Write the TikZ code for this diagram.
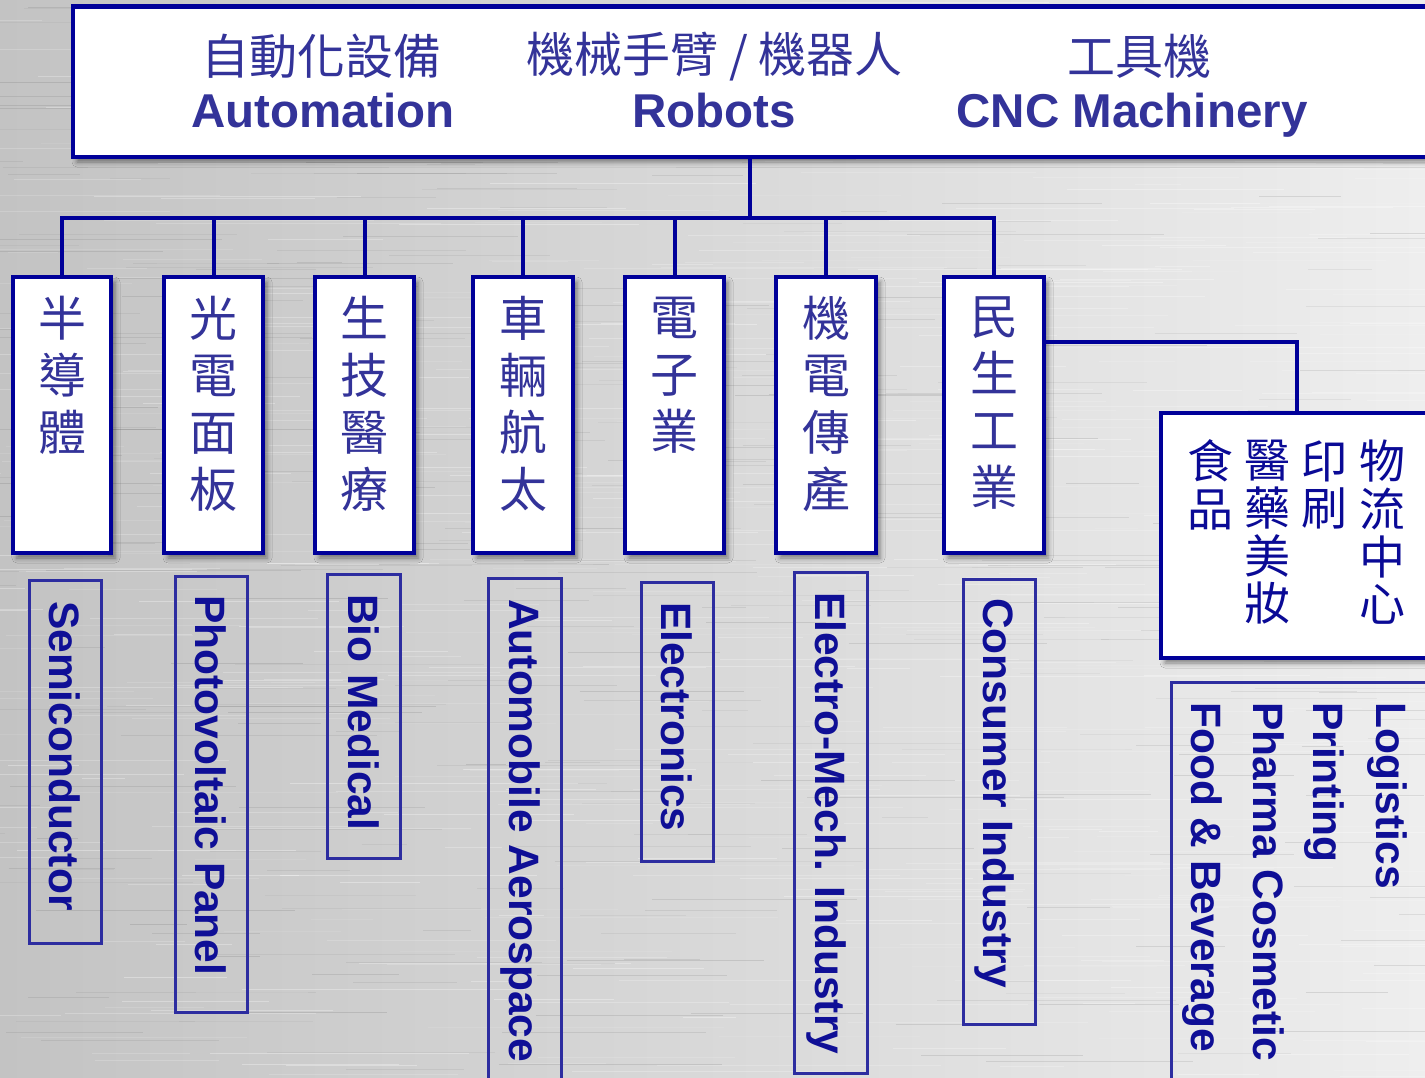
\documentclass[tikz,border=0pt]{standalone}
\usepackage{fontspec}
\setmainfont{Liberation Sans}
\newfontfamily\cjk{Noto Sans CJK TC}
\usetikzlibrary{shadows.blur}
\definecolor{navy}{RGB}{0,0,153}
\definecolor{txtblue}{RGB}{51,51,153}
\definecolor{rtblue}{RGB}{10,10,150}
\definecolor{lblblue}{RGB}{15,15,150}
\definecolor{thinblue}{RGB}{45,45,160}
\definecolor{bgL}{RGB}{195,195,195}
\definecolor{bgR}{RGB}{238,238,238}
\begin{document}
\begin{tikzpicture}[x=1pt,y=-1pt,
  mainbox/.style={draw=navy, line width=4.5pt, fill=white, inner sep=0pt,
    blur shadow={shadow xshift=4pt, shadow yshift=-5pt, shadow blur radius=5pt, shadow opacity=45}},
  colbox/.style={mainbox, minimum width=#1, minimum height=276pt},
  thinbox/.style={draw=thinblue, line width=3pt, inner sep=0pt, minimum width=72pt},
  link/.style={draw=navy, line width=4pt},
  toptextcjk/.style={text=txtblue, font=\cjk\fontsize{48}{56}\selectfont, inner sep=0pt},
  toptexten/.style={text=txtblue, font=\fontsize{47.5}{56}\selectfont\bfseries, inner sep=0pt, anchor=base},
  ctext/.style={text=txtblue, font=\cjk\fontsize{48}{57}\selectfont, align=center, inner sep=0pt},
  rtext/.style={text=rtblue, font=\cjk\fontsize{46}{47.7}\selectfont, align=center, inner sep=0pt},
  btext/.style={text=lblblue, font=\fontsize{42.5}{50}\selectfont\bfseries, rotate=-90, anchor=base west, inner sep=0pt}
]
\useasboundingbox (0,0) rectangle (1425,1078);
% background
\fill[left color=bgL, right color=bgR] (0,0) rectangle (1425,1078);
\pgfmathsetseed{7}
\foreach \k in {1,...,600}{
  \pgfmathsetmacro\yy{rnd*1078}
  \pgfmathsetmacro\xa{rnd*1500-100}
  \pgfmathsetmacro\ll{40+rnd*260}
  \pgfmathsetmacro\op{0.08+0.25*rnd}
  \draw[white, opacity=\op, line width=0.6pt] (\xa,\yy) -- ++(\ll,0);
}
\foreach \k in {1,...,350}{
  \pgfmathsetmacro\yy{rnd*1078}
  \pgfmathsetmacro\xa{rnd*1500-100}
  \pgfmathsetmacro\ll{40+rnd*220}
  \pgfmathsetmacro\op{0.03+0.07*rnd}
  \draw[black, opacity=\op, line width=0.6pt] (\xa,\yy) -- ++(\ll,0);
}

% top box
\node[mainbox, minimum width=1367pt, minimum height=150.5pt] (top) at (756.5,81.75) {};
\node[toptextcjk] (t1c) at (321,56.5) {自動化設備};
\node[toptexten] (t1e) at (323,128) {Automation};
\node[toptextcjk] (t2c) at (714.5,56.5) {機械手臂 / 機器人};
\node[toptexten] (t2e) at (714,128) {Robots};
\node[toptextcjk] (t3c) at (1139,56.5) {工具機};
\node[toptexten] (t3e) at (1132,128) {CNC Machinery};

% column boxes
\node[colbox=98pt]  (b1) at (62,415) {};
\node[colbox=99pt]  (b2) at (213.5,415) {};
\node[colbox=99pt]  (b3) at (364.5,415) {};
\node[colbox=100pt] (b4) at (523,415) {};
\node[colbox=99pt]  (b5) at (674.5,415) {};
\node[colbox=100pt] (b6) at (826,415) {};
\node[colbox=100pt] (b7) at (994,415) {};

\node[ctext] (c1) at (62,375)    {半\\導\\體};
\node[ctext] (c2) at (213.5,403.5) {光\\電\\面\\板};
\node[ctext] (c3) at (364.5,403.5) {生\\技\\醫\\療};
\node[ctext] (c4) at (523,403.5)   {車\\輛\\航\\太};
\node[ctext] (c5) at (674.5,375) {電\\子\\業};
\node[ctext] (c6) at (826,403.5)   {機\\電\\傳\\產};
\node[ctext] (c7) at (994,403.5)   {民\\生\\工\\業};

% right box
\node[mainbox, minimum width=289pt, minimum height=245pt] (rb) at (1305.5,535.5) {};
\node[rtext] (r1) at (1382,532.5) {物\\流\\中\\心};
\node[rtext] (r2) at (1324,485)   {印\\刷};
\node[rtext] (r3) at (1267,532.5) {醫\\藥\\美\\妝};
\node[rtext] (r4) at (1210,485)   {食\\品};

% connectors
\coordinate (hub) at (750,218);
\coordinate (rc) at (1297,342);
\draw[link] (top.south -| hub) -- (hub);
\draw[link, line cap=rect] (b1.north |- hub) -- (b7.north |- hub);
\foreach \b in {b1,b2,b3,b4,b5,b6,b7}
  \draw[link] (\b.north |- hub) -- (\b.north);
\draw[link] (b7.east |- rc) -- (rc) -- (rc |- rb.north);

% bottom english boxes
\node[thinbox, minimum height=363pt] (e1) at (65,761.5) {};
\node[thinbox, minimum height=436pt] (e2) at (211,794) {};
\node[thinbox, minimum width=73pt, minimum height=284pt] (e3) at (363.5,716) {};
\node[thinbox, minimum width=73pt, minimum height=512pt] (e4) at (524.5,834) {};
\node[thinbox, minimum height=279pt] (e5) at (677,721.5) {};
\node[thinbox, minimum width=73pt, minimum height=501pt] (e6) at (830.5,822.5) {};
\node[thinbox, minimum height=445pt] (e7) at (999,801.5) {};
\node[thinbox, minimum width=279pt, minimum height=408pt] (e8) at (1310.5,886) {};

\node[btext] (l1) at (49.8,601) {Semiconductor};
\node[btext] (l2) at (195.8,595) {Photovoltaic Panel};
\node[btext] (l3) at (348.3,594) {Bio Medical};
\node[btext] (l4) at (509.3,599) {Automobile Aerospace};
\node[btext] (l5) at (661.8,602) {Electronics};
\node[btext] (l6) at (815.3,592) {Electro-Mech. Industry};
\node[btext] (l7) at (983.8,598) {Consumer Industry};

\node[btext] (l8) at (1376,702) {Logistics};
\node[btext] (l9) at (1313,702) {Printing};
\node[btext] (l10) at (1253,702) {Pharma Cosmetic};
\node[btext] (l11) at (1191,702) {Food \& Beverage};
\end{tikzpicture}
\end{document}
